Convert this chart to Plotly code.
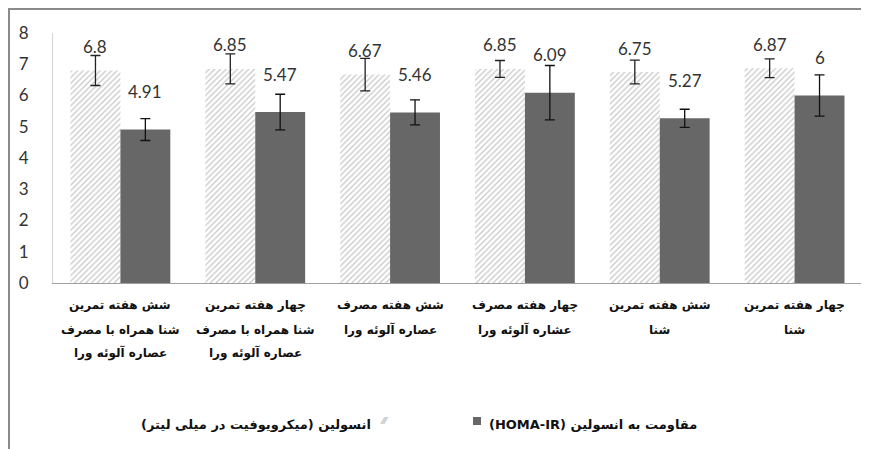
import plotly.graph_objects as go

categories = [
    "شش هفته تمرین<br>شنا همراه با مصرف<br>عصاره آلوئه ورا",
    "چهار هفته تمرین<br>شنا همراه با مصرف<br>عصاره آلوئه ورا",
    "شش هفته مصرف<br>عصاره آلوئه ورا",
    "چهار هفته مصرف<br>عشاره آلوئه ورا",
    "شش هفته تمرین<br>شنا",
    "چهار هفته تمرین<br>شنا",
]
insulin = [6.8, 6.85, 6.67, 6.85, 6.75, 6.87]
insulin_err = [0.48, 0.48, 0.52, 0.27, 0.38, 0.30]
homa = [4.91, 5.47, 5.46, 6.09, 5.27, 6.0]
homa_err = [0.35, 0.57, 0.40, 0.87, 0.29, 0.66]
insulin_labels = ["6.8", "6.85", "6.67", "6.85", "6.75", "6.87"]
homa_labels = ["4.91", "5.47", "5.46", "6.09", "5.27", "6"]
yticks = [0, 1, 2, 3, 4, 5, 6, 7, 8]

legend_insulin = "انسولین (میکرویوفیت در میلی لیتر)\u200f"
legend_homa = "(HOMA-IR) مقاومت به انسولین"

NUM_FONT = "Lato, Calibri, DejaVu Sans"
AR_FONT = "DejaVu Sans"

# page offset (browser body margin) compensation
OFF = 8
W, H = 869 - OFF, 449 - OFF
L, R, T, B = 53 - OFF, 7, 33 - OFF, 449 - 283
pw, ph = W - L - R, H - T - B


def px(x):
    return (x - OFF - L) / pw


def py(y):
    return (H - B - (y - OFF)) / ph


fig = go.Figure()
fig.add_trace(go.Bar(
    x=categories, y=insulin, name=legend_insulin,
    marker=dict(color="white", line=dict(width=0),
                pattern=dict(shape="/", fgcolor="#8e8e8e", bgcolor="white", size=4, solidity=0.3)),
    error_y=dict(type="data", array=insulin_err, color="#222222", thickness=1.3, width=5),
    showlegend=False,
))
fig.add_trace(go.Bar(
    x=categories, y=homa, name=legend_homa,
    marker=dict(color="#676767", line=dict(width=0)),
    error_y=dict(type="data", array=homa_err, color="#111111", thickness=1.3, width=5),
    showlegend=False,
))

annotations = []
for c, v, t in zip(categories, insulin, insulin_labels):
    annotations.append(dict(x=c, y=v, xref="x", yref="y", text=t, showarrow=False,
                            xshift=-25, yshift=24, font=dict(family=NUM_FONT, size=17, color="#333333")))
for c, v, t in zip(categories, homa, homa_labels):
    annotations.append(dict(x=c, y=v, xref="x", yref="y", text=t, showarrow=False,
                            xshift=25, yshift=38, font=dict(family=NUM_FONT, size=17, color="#333333")))

# category labels, one line at a time (wider line spacing than tick labels allow)
line_y = [305, 330, 353]
for c in categories:
    for i, line in enumerate(c.split("<br>")):
        annotations.append(dict(x=c, y=py(line_y[i]), xref="x", yref="paper", text="<b>" + line + "</b>",
                                showarrow=False, xanchor="center", yanchor="middle",
                                font=dict(family=AR_FONT, size=12, color="#111111")))

annotations.append(dict(x=px(373), y=py(424), xref="paper", yref="paper", xanchor="right", yanchor="middle",
                        text="<b>" + legend_insulin + "</b>", showarrow=False,
                        font=dict(family=AR_FONT, size=13, color="#111111")))
annotations.append(dict(x=px(378), y=py(421), xref="paper", yref="paper", xanchor="left", yanchor="middle",
                        text="⁄⁄⁄", showarrow=False, font=dict(family=AR_FONT, size=9, color="#aaaaaa")))
annotations.append(dict(x=px(487), y=py(424), xref="paper", yref="paper", xanchor="left", yanchor="middle",
                        text="<b>" + legend_homa + "</b>", showarrow=False,
                        font=dict(family=AR_FONT, size=13, color="#111111")))

shapes = [
    dict(type="rect", xref="paper", yref="paper", x0=px(473), x1=px(481), y0=py(425), y1=py(417),
         fillcolor="#676767", line=dict(width=0)),
    dict(type="rect", xref="paper", yref="paper", x0=px(9), x1=px(900), y0=py(480), y1=py(9),
         fillcolor="rgba(0,0,0,0)", line=dict(color="#8a8a8a", width=2)),
]

fig.update_layout(
    width=W, height=H,
    margin=dict(l=L, r=R, t=T, b=B, autoexpand=False),
    plot_bgcolor="white", paper_bgcolor="white",
    barmode="group", bargap=0.26, bargroupgap=0,
    annotations=annotations, shapes=shapes,
    xaxis=dict(showline=True, linecolor="#a0a0a0", linewidth=1, ticks="", showgrid=False,
               showticklabels=False),
    yaxis=dict(range=[0, 8], tickvals=yticks, showline=True, linecolor="#d4d4d4", linewidth=1,
               ticks="", showgrid=False, zeroline=False, ticklabelstandoff=20,
               tickfont=dict(family=NUM_FONT, size=17, color="#333333")),
)

fig.write_html("out.html")
